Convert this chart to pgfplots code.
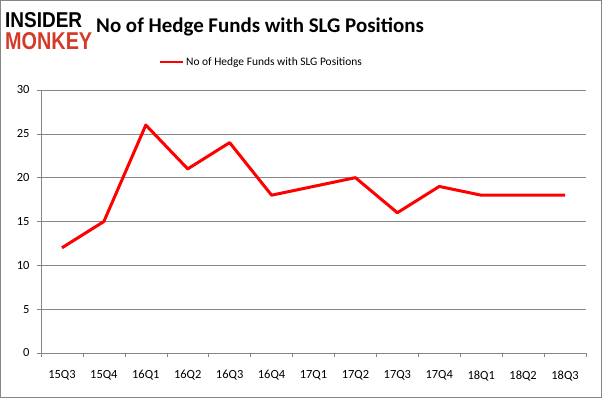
\documentclass[border=0pt]{standalone}
\usepackage{pgfplots}
\pgfplotsset{compat=1.18}
\usepackage{graphicx}
\usepackage{fontspec}
\setmainfont{Carlito}
\newfontfamily\logofont{Liberation Sans}
\definecolor{gridgray}{RGB}{134,134,134}
\definecolor{logored}{RGB}{212,58,40}
\begin{document}
\begin{tikzpicture}
\draw[gridgray,line width=1bp] (0.5bp,0.5bp) rectangle (601.5bp,397.5bp);
\node[anchor=north west,inner sep=0] at (5bp,386bp) {\resizebox{77bp}{15bp}{\logofont\bfseries INSIDER}};
\node[anchor=north west,inner sep=0] at (5bp,366bp) {\resizebox{87bp}{17bp}{\logofont\bfseries\color{logored}MONKEY}};
\node[anchor=center,inner sep=0] at (260bp,371bp) {\fontsize{21}{24}\selectfont\bfseries No of Hedge Funds with SLG Positions};
\begin{axis}[
  at={(41bp,45bp)}, anchor=south west,
  scale only axis, width=545bp, height=263bp,
  xmin=-0.5, xmax=12.5, ymin=0, ymax=30,
  ytick={0,5,...,30},
  xtick={0,...,12},
  xticklabels={15Q3,15Q4,16Q1,16Q2,16Q3,16Q4,17Q1,17Q2,17Q3,17Q4,18Q1,18Q2,18Q3},
  minor xtick={-0.5,0.5,...,12.5},
  major x tick style={draw=none},
  minor tick length=4bp,
  major tick length=4bp,
  tick align=outside,
  axis x line*=bottom, axis y line*=left,
  axis line style={gridgray},
  every tick/.style={gridgray},
  ymajorgrids, grid style={gridgray},
  x axis line style={-}, y axis line style={-},
  tick label style={font=\fontsize{12.5}{14}\selectfont},
  /pgf/number format/assume math mode=true,
  xticklabel style={yshift=-10bp},
  yticklabel style={xshift=-4bp},
  legend style={at={(0.4046,1.1065)}, anchor=center, draw=none, fill=none,
    font=\fontsize{11.5}{13}\selectfont, inner sep=0pt},
  legend image code/.code={\draw[red,line width=2bp] (0,0) -- (23bp,0);},
]
\addplot[red, line width=3bp, line join=round] coordinates {
(0,12) (1,15) (2,26) (3,21) (4,24) (5,18) (6,19) (7,20) (8,16) (9,19) (10,18) (11,18) (12,18)
};
\addlegendentry{No of Hedge Funds with SLG Positions}
\end{axis}
\end{tikzpicture}
\end{document}
